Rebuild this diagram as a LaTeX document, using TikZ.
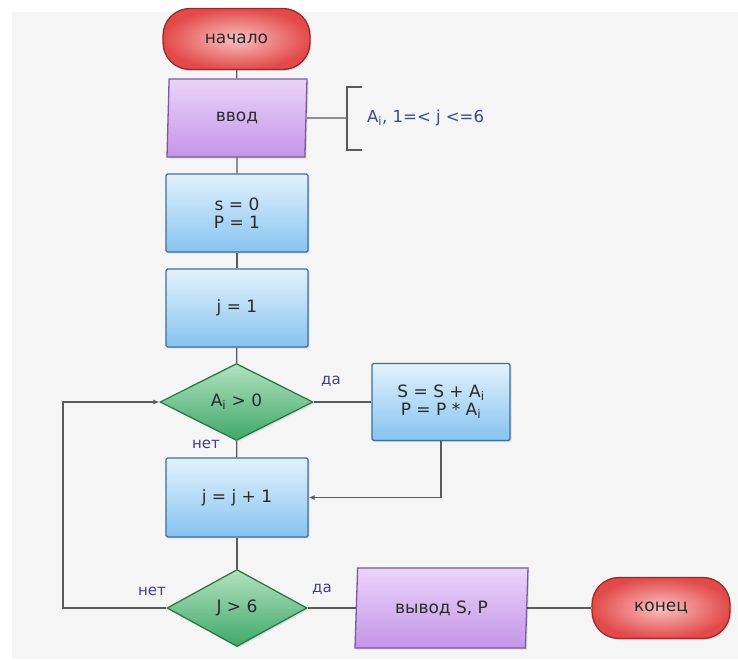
\documentclass[tikz,border=0pt]{standalone}
\usepackage{fontspec}
\setmainfont{DejaVu Sans}
\usetikzlibrary{shapes.geometric, arrows.meta, shadows}
\definecolor{panel}{HTML}{F5F5F5}
\definecolor{linec}{HTML}{5A5A5A}
\definecolor{txt}{HTML}{2A2A2A}
\definecolor{lblc}{HTML}{3E3E96}
\definecolor{cmtc}{HTML}{3A4A8A}
\definecolor{boxtop}{HTML}{E2F2FD}
\definecolor{boxbot}{HTML}{86C3EF}
\definecolor{boxdraw}{HTML}{3A6F99}
\definecolor{terminner}{HTML}{FBC0C0}
\definecolor{termouter}{HTML}{E24A4A}
\definecolor{termdraw}{HTML}{9A2A2A}
\definecolor{iotop}{HTML}{EBD3FA}
\definecolor{iobot}{HTML}{C495E8}
\definecolor{iodraw}{HTML}{7A5A9A}
\definecolor{dectop}{HTML}{B2E2C0}
\definecolor{decbot}{HTML}{3FA868}
\definecolor{decdraw}{HTML}{2B7A48}
\tikzset{
  base/.style={text=txt, font=\fontsize{17}{20}\selectfont, align=center, inner sep=0pt,
    line width=1.3pt, drop shadow={opacity=0.22, shadow xshift=1.5pt, shadow yshift=-1.5pt}},
  term/.style={base, draw=termdraw, rectangle, rounded corners=27pt, inner color=terminner, outer color=termouter,
    minimum width=147pt, minimum height=61pt},
  io/.style={base, draw=iodraw, trapezium, trapezium left angle=80, trapezium right angle=100,
    trapezium stretches body, top color=iotop, bottom color=iobot},
  proc/.style={base, draw=boxdraw, rectangle, rounded corners=1.5pt, top color=boxtop, bottom color=boxbot,
    minimum width=142pt, minimum height=78pt},
  dec/.style={base, draw=decdraw, diamond, top color=dectop, bottom color=decbot},
  conn/.style={draw=linec, line width=1.2pt},
  arr/.style={conn, -{Latex[length=6pt,width=5pt]}},
  lbl/.style={text=lblc, font=\fontsize{15}{17}\selectfont, inner sep=0pt}
}
\begin{document}
\begin{tikzpicture}[x=1pt,y=-1pt]
\useasboundingbox (0,0) rectangle (738,659);
\fill[white] (0,0) rectangle (738,659);
\fill[panel] (12,12) rectangle (738,659);

\node[term] (start) at (236.5,39) {начало};
\node[io, minimum width=140pt, minimum height=78pt] (in) at (237,118) {ввод};
\node[proc] (init) at (237,213) {s = 0\\[-2pt]P = 1};
\node[proc] (j1) at (237,308) {j = 1};
\node[dec, minimum width=153pt, minimum height=77pt] (d1) at (236.5,402) {A\textsubscript{i} > 0};
\node[proc, minimum width=138pt, minimum height=77pt] (upd) at (441,402) {S = S + A\textsubscript{i}\\[-2pt]P = P * A\textsubscript{i}};
\node[proc, minimum height=79pt] (inc) at (237,497.5) {j = j + 1};
\node[dec, minimum width=140pt, minimum height=77pt] (d2) at (237,608) {J > 6};
\node[io, minimum width=173pt, minimum height=80pt] (out) at (441.5,608) {вывод S, P};
\node[term, minimum width=138pt, minimum height=61pt] (end) at (661,608) {конец};

\coordinate (brk) at (347,118);
\coordinate (brkT) at (362,87);
\coordinate (brkB) at (362,150);
\coordinate (loopx) at (63,0);
\node[anchor=west, text=cmtc, font=\fontsize{16.5}{19}\selectfont, inner sep=0pt] (cmt) at (367,118) {A\textsubscript{i}, 1=< j <=6};

\node[lbl] (l1) at (331,381) {да};
\node[lbl] (l2) at (206,444) {нет};
\node[lbl] (l3) at (152,591) {нет};
\node[lbl] (l4) at (322,589) {да};

\draw[conn] (start) -- (in);
\draw[conn] (in) -- (init);
\draw[conn] (init) -- (j1);
\draw[conn] (j1) -- (d1);
\draw[conn] (d1) -- (inc);
\draw[conn] (inc) -- (d2);
\draw[conn] (d1.east) -- (upd.west);
\draw[arr] (upd.south) |- (inc.east);
\draw[conn] (d2.east) -- (out.west);
\draw[conn] (out.east) -- (end.west);
\draw[arr] (d2.west) -- (loopx |- d2.west) |- (d1.west);
\draw[conn] (in.east) -- (brk);
\draw[conn] (brkT) -| (brk) |- (brkB);
\end{tikzpicture}
\end{document}
